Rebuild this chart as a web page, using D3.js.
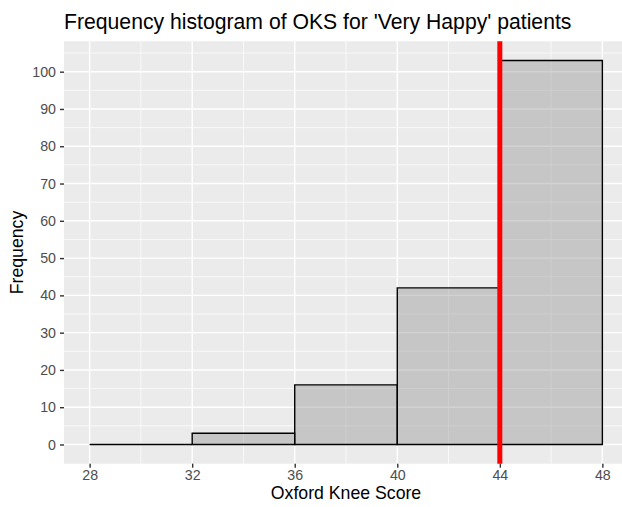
<!DOCTYPE html>
<html>
<head>
<meta charset="utf-8">
<script src="https://cdn.jsdelivr.net/npm/d3@7"></script>
<style>
html,body{margin:0;padding:0;background:#fff;overflow:hidden;}
svg{display:block;font-family:"Liberation Sans",Arial,sans-serif;}
</style>
</head>
<body>
<svg id="chart" width="622" height="507"></svg>
<script>
const binStarts = [28, 32, 36, 40, 44];
const binWidth = 4;
const counts = [0, 3, 16, 42, 103];
const xTicks = [28, 32, 36, 40, 44, 48];
const xMinor = [30, 34, 38, 42, 46];
const yTicks = [0, 10, 20, 30, 40, 50, 60, 70, 80, 90, 100];
const yMinor = [5, 15, 25, 35, 45, 55, 65, 75, 85, 95, 105];
const refLine = 44;
const titleText = "Frequency histogram of OKS for 'Very Happy' patients";
const xTitle = "Oxford Knee Score";
const yTitle = "Frequency";

const svg = d3.select("#chart");
const panel = {left: 64, top: 41.3, right: 628, bottom: 463.7};

const x = d3.scaleLinear().domain([27, 49]).range([panel.left, panel.right]);
const yMax = d3.max(counts);
const y = d3.scaleLinear().domain([-yMax*0.05, yMax*1.05]).range([panel.bottom, panel.top]);

// panel background
svg.append("rect").attr("x", panel.left).attr("y", panel.top)
  .attr("width", panel.right - panel.left).attr("height", panel.bottom - panel.top)
  .attr("fill", "#EBEBEB");

const grid = svg.append("g");
grid.selectAll(".vmin").data(xMinor).join("line")
  .attr("x1", d => x(d)).attr("x2", d => x(d)).attr("y1", panel.top).attr("y2", panel.bottom)
  .attr("stroke", "#fff").attr("stroke-width", 0.7);
grid.selectAll(".hmin").data(yMinor).join("line")
  .attr("y1", d => y(d)).attr("y2", d => y(d)).attr("x1", panel.left).attr("x2", panel.right)
  .attr("stroke", "#fff").attr("stroke-width", 0.7);
grid.selectAll(".vmaj").data(xTicks).join("line")
  .attr("x1", d => x(d)).attr("x2", d => x(d)).attr("y1", panel.top).attr("y2", panel.bottom)
  .attr("stroke", "#fff").attr("stroke-width", 1.4);
grid.selectAll(".hmaj").data(yTicks).join("line")
  .attr("y1", d => y(d)).attr("y2", d => y(d)).attr("x1", panel.left).attr("x2", panel.right)
  .attr("stroke", "#fff").attr("stroke-width", 1.4);

// bars (paths so that zero-height bins still show their outline)
svg.append("g").selectAll("path").data(binStarts).join("path")
  .attr("d", (d, i) => {
    const x0 = x(d), x1 = x(d + binWidth), y0 = y(0), y1 = y(counts[i]);
    return `M${x0},${y0}L${x0},${y1}L${x1},${y1}L${x1},${y0}Z`;
  })
  .attr("fill", "rgb(142,142,142)").attr("fill-opacity", 0.4)
  .attr("stroke", "#000").attr("stroke-width", 1.4).attr("stroke-linejoin", "miter");

// reference line
svg.append("line").attr("x1", x(refLine)).attr("x2", x(refLine))
  .attr("y1", panel.top).attr("y2", panel.bottom)
  .attr("stroke", "#FF0000").attr("stroke-width", 5);

// axes
const xAxis = d3.axisBottom(x).tickValues(xTicks).tickSize(4).tickPadding(2.5);
const gx = svg.append("g").attr("transform", `translate(0,${panel.bottom})`).call(xAxis);
gx.select(".domain").remove();
gx.selectAll(".tick line").attr("stroke", "#333").attr("stroke-width", 1.4);
gx.selectAll(".tick text").attr("fill", "#4D4D4D").attr("font-size", 14.2)
  .attr("font-family", "Liberation Sans, Arial, sans-serif");

const yAxis = d3.axisLeft(y).tickValues(yTicks).tickSize(4).tickPadding(4);
const gy = svg.append("g").attr("transform", `translate(${panel.left},0)`).call(yAxis);
gy.select(".domain").remove();
gy.selectAll(".tick line").attr("stroke", "#333").attr("stroke-width", 1.4);
gy.selectAll(".tick text").attr("fill", "#4D4D4D").attr("font-size", 14.2)
  .attr("font-family", "Liberation Sans, Arial, sans-serif");

// titles
svg.append("text").attr("x", panel.left).attr("y", 29)
  .attr("font-size", 21.2).attr("fill", "#000").text(titleText);
svg.append("text").attr("x", (panel.left + panel.right) / 2).attr("y", 499)
  .attr("text-anchor", "middle").attr("font-size", 17.7).attr("fill", "#000").text(xTitle);
svg.append("text").attr("transform", `translate(23,${(panel.top + panel.bottom) / 2}) rotate(-90)`)
  .attr("text-anchor", "middle").attr("font-size", 17.7).attr("fill", "#000").text(yTitle);
</script>
</body>
</html>
